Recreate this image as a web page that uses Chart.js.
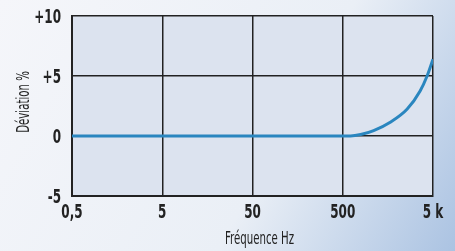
<!DOCTYPE html>
<html>
<head>
<meta charset="utf-8">
<script src="https://cdn.jsdelivr.net/npm/chart.js@4/dist/chart.umd.min.js"></script>
<style>
  html, body { margin: 0; padding: 0; }
  #wrap { width: 455px; height: 251px; }
</style>
</head>
<body>
<div id="wrap"><canvas id="devChart" width="455" height="251"></canvas></div>
<script>
// data
const freqs = [0.5, 5, 50, 500, 610, 790, 1100, 1680, 2590, 3600, 4300, 5000];
const deviation = [0, 0, 0, 0, 0, 0.12, 0.45, 1.15, 2.25, 3.75, 5.0, 6.4];
const xTickValues = [0.5, 5, 50, 500, 5000];
const xTickLabels = ['0,5', '5', '50', '500', '5 k'];
const yTickValues = [-5, 0, 5, 10];
const yTickLabels = ['-5', '0', '+5', '+10'];
const xTitle = 'Fréquence Hz';
const yTitle = 'Déviation %';

const font = "'DejaVu Sans', sans-serif";

const bgPlugin = {
  id: 'bg',
  beforeDraw(chart) {
    const c = chart.ctx, a = chart.chartArea;
    const g = c.createLinearGradient(0, 0, chart.width, chart.height);
    g.addColorStop(0, '#f5f6fa');
    g.addColorStop(0.6, '#eaeff6');
    g.addColorStop(1, '#abc3e2');
    c.save();
    c.fillStyle = g;
    c.fillRect(0, 0, chart.width, chart.height);
    c.fillStyle = '#dce3ef';
    c.fillRect(a.left, a.top, a.right - a.left, a.bottom - a.top);
    c.restore();
  }
};

// the original uses a condensed face, so text is squeezed horizontally
function narrowText(c, text, x, y, align, sx, rot) {
  c.save();
  c.translate(x, y);
  if (rot) c.rotate(rot);
  c.scale(sx, 1);
  c.textAlign = align;
  c.fillText(text, 0, 0);
  c.restore();
}

const narrowLabels = {
  id: 'narrowLabels',
  afterDraw(chart) {
    const c = chart.ctx, xs = chart.scales.x, ys = chart.scales.y;
    c.save();
    c.fillStyle = '#222';
    c.textBaseline = 'middle';
    c.font = 'bold 20px ' + font;
    xTickValues.forEach((v, i) => {
      narrowText(c, xTickLabels[i], xs.getPixelForValue(v), xs.top + 17, 'center', 0.6);
    });
    yTickValues.forEach((v, i) => {
      narrowText(c, yTickLabels[i], ys.right - 11, ys.getPixelForValue(v) + 2, 'right', 0.6);
    });
    c.font = '17px ' + font;
    narrowText(c, xTitle, (xs.left + xs.right) / 2 + 7, xs.top + 44, 'center', 0.6);
    narrowText(c, yTitle, 25, (ys.top + ys.bottom) / 2 - 4, 'center', 0.6, -Math.PI / 2);
    c.restore();
  }
};

new Chart(document.getElementById('devChart'), {
  type: 'line',
  data: {
    datasets: [{
      data: freqs.map((f, i) => ({ x: f, y: deviation[i] })),
      borderColor: '#2a86bf',
      borderWidth: 3,
      pointRadius: 0,
      cubicInterpolationMode: 'monotone',
      fill: false
    }]
  },
  options: {
    responsive: false,
    animation: false,
    layout: { padding: { top: 16, right: 22, bottom: 0, left: 0 } },
    plugins: { legend: { display: false }, tooltip: { enabled: false } },
    scales: {
      x: {
        type: 'logarithmic',
        min: 0.5,
        max: 5000,
        afterBuildTicks: s => { s.ticks = xTickValues.map(v => ({ value: v })); },
        afterFit: s => { s.height = 55; },
        ticks: { display: false },
        grid: { color: '#222', lineWidth: 1.5, drawTicks: false },
        border: { color: '#222', width: 2 }
      },
      y: {
        min: -5,
        max: 10,
        afterBuildTicks: s => { s.ticks = yTickValues.map(v => ({ value: v })); },
        afterFit: s => { s.width = 72; },
        ticks: { display: false },
        grid: { color: '#222', lineWidth: 1.5, drawTicks: false },
        border: { color: '#222', width: 2 }
      }
    }
  },
  plugins: [bgPlugin, narrowLabels]
});
</script>
</body>
</html>
